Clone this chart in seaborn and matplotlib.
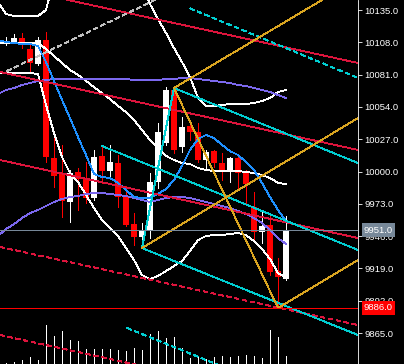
import matplotlib
matplotlib.use("Agg")
import matplotlib.pyplot as plt
import matplotlib.transforms as mtransforms
import numpy as np
import pandas as pd
import seaborn as sns

plt.rcParams["font.family"] = ["Liberation Sans", "DejaVu Sans"]

# ---------------- data ----------------
bar_index = list(range(37))
opens = [10109.1, 10107.4, 10107.4, 10111.6, 10102.4, 10089.9, 10109.9, 10011.3, 9998.8, 9974.5,
         9999.6, 9994.6, 9977.9, 10013.0, 10000.4, 10007.1, 9979.5, 9956.1, 9945.3, 9951.1,
         9991.2, 10023.8, 10068.1, 10020.5, 10038.0, 10033.0, 10009.6, 10017.1, 10007.1, 10001.3,
         10011.3, 9998.8, 9970.3, 9949.4, 9955.3, 9916.8, 9910.1]
highs = [10109.9, 10112.4, 10115.0, 10115.8, 10107.4, 10112.4, 10116.6, 10029.7, 10022.2, 10001.3,
         10003.0, 10008.0, 10018.0, 10022.2, 10022.2, 10013.8, 9987.9, 9965.3, 9957.0, 9998.8,
         10040.5, 10070.6, 10069.8, 10045.6, 10040.5, 10040.5, 10018.0, 10018.0, 10015.5, 10012.1,
         10013.8, 10001.3, 9982.9, 9967.8, 9963.6, 9927.7, 9962.8]
lows = [10104.9, 10105.7, 10107.4, 10103.2, 10083.2, 10089.0, 10007.9, 9987.0, 9962.0, 9957.8,
        9967.8, 9973.7, 9976.2, 9990.4, 9993.7, 9970.3, 9954.5, 9938.6, 9936.0, 9944.4,
        9986.2, 10022.2, 10015.5, 10016.3, 10026.3, 10007.9, 10002.1, 10003.8, 9992.9, 9991.2,
        9986.2, 9973.7, 9942.7, 9940.2, 9913.5, 9885.9, 9909.3]
closes = [10106.6, 10109.1, 10111.6, 10107.4, 10090.7, 10109.9, 10012.1, 9996.2, 9975.3, 9998.8,
          9993.7, 9977.9, 10012.1, 10000.4, 10008.0, 9978.7, 9955.3, 9945.3, 9951.1, 9991.2,
          10033.0, 10068.1, 10018.0, 10037.2, 10033.0, 10009.6, 10016.3, 10007.1, 10001.3, 10011.3,
          9998.8, 9989.6, 9949.4, 9954.5, 9916.0, 9911.8, 9951.1]
volumes = [50, 65, 115, 200, 335, 200, 1950, 1400, 1650, 1200, 1150, 750, 750, 750, 750, 700,
           665, 800, 700, 1500, 1650, 1300, 1350, 800, 300, 350, 250, 350, 400, 350, 400, 450,
           400, 300, 1700, 1350, 400]

bb_upper = [10141.7, 10131.7, 10130.0, 10130.0, 10130.0, 10130.0, 10135.0, 10160.9, 10169.3, 10170.9,
            10170.1, 10170.9, 10171.8, 10171.8, 10168.4, 10163.4, 10163.4, 10160.1, 10155.9, 10140.0,
            10127.5, 10115.8, 10103.2, 10091.5, 10079.0, 10061.4, 10054.8, 10054.8, 10055.6, 10056.4,
            10056.4, 10056.4, 10057.3, 10058.9, 10061.4, 10066.5, 10068.1]
bb_middle = [10107.4, 10107.4, 10107.4, 10107.4, 10107.4, 10107.4, 10102.4, 10096.6, 10090.7, 10084.9,
             10080.7, 10075.7, 10070.6, 10065.6, 10060.6, 10054.8, 10049.7, 10043.1, 10034.7, 10026.3,
             10019.6, 10013.0, 10009.6, 10007.1, 10006.3, 10002.9, 10001.3, 10000.4, 10000.4, 10000.4,
             10000.4, 9999.6, 9998.8, 9997.1, 9994.6, 9990.4, 9989.6]
bb_lower = [10082.3, 10082.3, 10082.3, 10082.3, 10082.3, 10081.5, 10055.6, 10032.2, 10012.1, 9998.8,
            9991.2, 9980.4, 9969.5, 9959.5, 9952.8, 9946.1, 9936.1, 9926.0, 9913.5, 9910.1,
            9912.7, 9916.8, 9921.0, 9925.2, 9933.6, 9942.7, 9946.1, 9946.9, 9946.9, 9947.8,
            9948.6, 9946.9, 9941.9, 9935.2, 9926.9, 9915.2, 9911.0]
ma_fast = [10109.9, 10108.3, 10107.4, 10106.6, 10106.6, 10104.9, 10091.5, 10075.7, 10059.8, 10044.7,
           10028.8, 10013.8, 9997.9, 9995.4, 9994.6, 9990.4, 9984.5, 9978.7, 9977.9, 9977.9,
           9981.2, 9985.4, 9992.9, 10004.6, 10018.0, 10027.2, 10030.5, 10028.0, 10022.2, 10017.1,
           10013.8, 10007.9, 10001.3, 9990.4, 9978.7, 9967.8, 9958.6]
ma_slow_upper = [10064.8, 10068.1, 10069.8, 10072.3, 10074.0, 10075.7, 10076.5, 10077.3, 10077.3, 10077.3,
                 10077.3, 10077.3, 10077.3, 10077.3, 10077.3, 10077.3, 10077.3, 10076.5, 10076.5, 10076.5,
                 10076.5, 10077.3, 10077.3, 10078.2, 10078.2, 10077.3, 10076.5, 10075.7, 10074.8, 10074.0,
                 10072.3, 10071.5, 10069.8, 10068.1, 10066.5, 10064.0, 10061.4]
ma_slow_lower = [9946.1, 9951.9, 9956.1, 9961.1, 9965.3, 9967.8, 9971.2, 9974.5, 9977.0, 9978.7,
                 9979.5, 9981.2, 9982.0, 9982.0, 9981.2, 9980.4, 9979.5, 9977.9, 9976.2, 9974.5,
                 9976.2, 9977.9, 9978.7, 9978.7, 9977.9, 9976.2, 9974.5, 9972.8, 9971.2, 9969.5,
                 9967.0, 9964.5, 9961.1, 9957.0, 9951.1, 9944.4, 9939.4]

# drawn objects (anchor bar, anchor price)
view_bars = [0.25, 45.0]
red_left_prices = [10155.7, 10083.2, 10009.6, 9936.9, 9863.3]
red_right_prices = [10090.7, 10018.0, 9944.4, 9871.7, 9798.1]
cyan_start_bars = [24.0, 22.0, 13.0, 18.0, 16.125]
cyan_start_prices = [10136.4, 10069.8, 10021.3, 9936.0, 9869.2]
cyan_end_prices = [10078.2, 10007.1, 9934.4, 9863.3, 9791.0]
pivot_bars = [18, 22, 35]
pivot_prices = [9936.0, 10069.8, 9885.9]
orange_end_prices = [10044.7, 10161.3, 9926.0]
grey_bars = [1.125, 20.25]
grey_prices = [10084.0, 10145.4]
bid_price = 9951.0
marked_price = 9886.0
price_ticks = [9865.0, 9892.0, 9919.0, 9946.0, 9973.0, 10000.0, 10027.0, 10054.0, 10081.0, 10108.0, 10135.0]
price_range = [9839.1, 10143.36]
volume_range = [0, 18200]

# ---------------- figure ----------------
W, H = 404, 364
fig = plt.figure(figsize=(W / 100, H / 100), dpi=100, facecolor="black")
rect = [0, 0, 358 / W, 1]
axv = fig.add_axes(rect)
axv.set_facecolor("black")
axv.set_xlim(*view_bars)
axv.set_ylim(*volume_range)
axv.axis("off")

ax = fig.add_axes(rect)
ax.set_facecolor("none")
ax.set_xlim(*view_bars)
ax.set_ylim(*price_range)

LW = 0.6
AA = False

# volume bars
axv.vlines(bar_index, 0, volumes, colors="white", lw=LW, antialiased=AA)

df = pd.DataFrame({"bar": bar_index, "open": opens, "high": highs, "low": lows, "close": closes})
up = df["close"] >= df["open"]
cols = np.where(up, "#FFFFFF", "#FF0000")
ax.vlines(df["bar"], df["low"], df["high"], colors=cols, lw=LW, zorder=2, antialiased=AA)
body_bottom = np.minimum(df["open"], df["close"])
body_h = np.maximum(np.abs(df["close"] - df["open"]), 0.9)
ax.bar(df["bar"], body_h, bottom=body_bottom, width=0.66, color=cols, lw=0, zorder=2.1,
       antialiased=AA)

ind = pd.DataFrame({"bar": bar_index, "up": bb_upper, "mid": bb_middle, "low": bb_lower,
                    "fast": ma_fast, "su": ma_slow_upper, "sl": ma_slow_lower})
for col, color in [("up", "white"), ("mid", "white"), ("low", "white"),
                   ("su", "#7B68EE"), ("sl", "#7B68EE"), ("fast", "#1E90FF")]:
    sns.lineplot(data=ind, x="bar", y=col, ax=ax, color=color, lw=LW, zorder=3,
                 estimator=None, sort=False, antialiased=AA)

dash = (0, (5, 4))
for i, (p0, p1) in enumerate(zip(red_left_prices, red_right_prices)):
    sns.lineplot(x=view_bars, y=[p0, p1], ax=ax, color="#DC143C", lw=LW, zorder=3,
                 estimator=None, sort=False, antialiased=AA,
                 linestyle=dash if i >= 3 else "-")

for i, (b0, p0, p1) in enumerate(zip(cyan_start_bars, cyan_start_prices, cyan_end_prices)):
    sns.lineplot(x=[b0, view_bars[1]], y=[p0, p1], ax=ax, color="#00CED1", lw=LW, zorder=3,
                 estimator=None, sort=False, antialiased=AA,
                 linestyle=dash if i in (0, 4) else "-")

# pivot connecting lines
sns.lineplot(x=pivot_bars[:2], y=pivot_prices[:2], ax=ax, color="#00CED1", lw=LW, zorder=3,
             estimator=None, sort=False, antialiased=AA)
sns.lineplot(x=pivot_bars[1:], y=pivot_prices[1:], ax=ax, color="#DAA520", lw=LW, zorder=3,
             estimator=None, sort=False, antialiased=AA)
for b0, p0, p1 in zip(pivot_bars, pivot_prices, orange_end_prices):
    sns.lineplot(x=[b0, view_bars[1]], y=[p0, p1], ax=ax, color="#DAA520", lw=LW, zorder=3,
                 estimator=None, sort=False, antialiased=AA)

sns.lineplot(x=grey_bars, y=grey_prices, ax=ax, color="#C0C0C0", lw=LW, zorder=3,
             estimator=None, sort=False, antialiased=AA, linestyle=dash)

ax.axhline(bid_price, color="#778899", lw=LW, zorder=3.2, antialiased=AA)
ax.axhline(marked_price, color="#FF0000", lw=LW, zorder=3.2, antialiased=AA)

# axes cosmetics
for s in ["top", "left", "bottom"]:
    ax.spines[s].set_visible(False)
ax.spines["right"].set_color("white")
ax.spines["right"].set_linewidth(LW)
ax.set_xticks([])
ax.set_xlabel("")
ax.set_ylabel("")
ax.yaxis.tick_right()
ax.set_yticks(price_ticks)
ax.set_yticklabels([f"{t:.1f}" for t in price_ticks])
ax.tick_params(axis="y", colors="white", length=3, width=LW, pad=1.5, labelsize=6.8)
if ax.get_legend():
    ax.get_legend().remove()

blend = mtransforms.blended_transform_factory(ax.transAxes, ax.transData)
xlab = 1 + 6 / 358
for price, fc in [(bid_price, "#778899"), (marked_price, "#FF0000")]:
    ax.text(xlab, price, f"{price:.1f}", transform=blend, ha="left", va="center",
            fontsize=6.8, color="white", zorder=10, clip_on=False,
            bbox=dict(boxstyle="square,pad=0.25", fc=fc, ec="none"))

fig.savefig("out.png", dpi=100, facecolor="black")
